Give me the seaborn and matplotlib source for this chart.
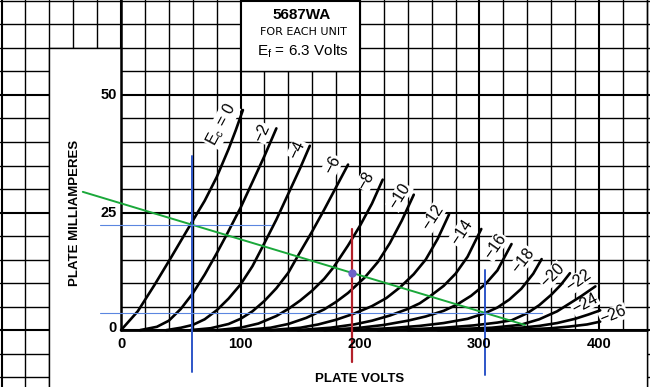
import numpy as np
import pandas as pd
import matplotlib
matplotlib.use("Agg")
import matplotlib.pyplot as plt
import seaborn as sns
from matplotlib.patches import Rectangle

# Plate characteristic curves, (plate volts, plate mA)
ec_0 = [(0, 0), (14, 4), (28, 9.6), (42, 15.5), (58, 22.4), (70, 27.5), (80, 32.5), (90, 38.5), (96, 42.5), (102, 46.8)]
ec_2 = [(16, 0), (30, 0.7), (40, 2), (50, 4.5), (60, 7.8), (70, 11.8), (80, 16.3), (88, 20.1), (100, 26), (110, 31.5), (120, 37), (130, 42.9)]
ec_4 = [(38, 0), (50, 0.5), (60, 1.1), (70, 2.3), (80, 4.2), (90, 6.7), (100, 9.7), (110, 13.6), (118.6, 17.8), (130, 23.5), (140, 29), (150, 34.5), (158, 39.2)]
ec_6 = [(58, 0), (75, 0.4), (90, 1.3), (100, 2.4), (110, 4), (120, 6.2), (130, 8.9), (140, 12.2), (147.6, 15.6), (160, 21), (170, 25.6), (180, 30.4), (190, 35.2)]
ec_8 = [(80, 0), (100, 0.5), (115, 1.4), (130, 3), (140, 4.5), (150, 6.3), (160, 8.4), (170, 10.9), (178, 13.4), (190, 18), (200, 22.2), (210, 26.9), (219, 32)]
ec_10 = [(102, 0), (125, 0.5), (140, 1.3), (155, 2.6), (170, 4.4), (180, 6), (190, 7.9), (204, 11.2), (215, 14.5), (225, 18.5), (235, 23.3), (245, 28.8)]
ec_12 = [(125, 0), (150, 0.5), (165, 1.2), (180, 2.2), (195, 3.5), (210, 5.1), (222, 6.8), (233.5, 9.1), (245, 11.9), (255, 15), (265, 19.4), (274.5, 24.6)]
ec_14 = [(148, 0), (175, 0.5), (195, 1.2), (210, 2), (225, 3.1), (240, 4.5), (250, 5.7), (258.6, 7.2), (270, 9.4), (280, 12), (290, 15.6), (301.5, 21.5)]
ec_16 = [(170, 0), (200, 0.5), (220, 1.1), (240, 2), (255, 2.9), (270, 4.1), (281, 5.4), (293, 7.3), (305, 9.8), (315, 12.7), (326.8, 18.3)]
ec_18 = [(192, 0), (225, 0.4), (250, 0.9), (270, 1.5), (290, 2.4), (304.6, 3.6), (315, 4.8), (325, 6.5), (335, 8.8), (345, 12), (352, 15.1)]
ec_20 = [(215, 0), (245, 0.2), (270, 0.5), (295, 1), (315, 1.6), (327, 2.1), (340, 3.6), (350, 5.3), (360, 7.5), (368, 9.6), (375.7, 12.1)]
ec_22 = [(240, 0), (280, 0.2), (310, 0.5), (334, 1.1), (350, 2.3), (365, 4), (375, 5.6), (385, 7.2), (397, 9.3)]
ec_24 = [(265, 0), (300, 0.1), (330, 0.4), (350, 0.9), (365, 1.5), (380, 2.4), (391, 3.3), (401, 4.2)]
ec_26 = [(300, 0), (340, 0.15), (360, 0.4), (375, 0.75), (390, 1.2), (401, 1.8)]

grid_bias = [0, -2, -4, -6, -8, -10, -12, -14, -16, -18, -20, -22, -24, -26]
curves = [ec_0, ec_2, ec_4, ec_6, ec_8, ec_10, ec_12, ec_14, ec_16, ec_18, ec_20, ec_22, ec_24, ec_26]

# curve labels and where they sit
curve_labels = ['E$_\\mathregular{c}$ = 0', '\u22122', '\u22124', '\u22126', '\u22128', '\u221210', '\u221212',
                '\u221214', '\u221216', '\u221218', '\u221220', '\u221222', '\u221224', '\u221226']
label_v = [84, 118, 147.5, 177, 205, 233, 261, 285, 313, 336.5, 361, 383, 388, 412]
label_ma = [43.6, 42, 38.4, 35.2, 31.8, 28.4, 24, 20.8, 17.8, 14.8, 11.6, 10.5, 5.7, 3.2]
label_rot = [62, 65, 65, 62, 60, 58, 57, 57, 55, 52, 45, 35, 28, 22]

# tick labels
x_ticks = [0, 100, 200, 300, 400]
y_ticks = [0, 25, 50]

# load line, operating point and marker lines drawn on the sheet
load_v = [-32, 338]
load_ma = [29.4, 1.1]
blue_v = [59, 304.6]
blue_top = [37, 12.8]
blue_bottom = [-8.9, -9.6]
red_v = 193
red_span = [-6.7, 21.6]
hline_ma = [22.3, 3.7]
hline_end = [125.5, 352]
point_v, point_ma = 193, 12.2

sns.set_style("white")
plt.rcParams['font.family'] = ['Liberation Sans', 'DejaVu Sans']
plt.rcParams['text.color'] = 'black'

fig = plt.figure(figsize=(6.5, 3.87), dpi=100)
ax = fig.add_axes([0, 0, 1, 1])
ax.set_xlim(-101.3, 442.7)
ax.set_ylim(-12.1, 70.2)

# graph paper
for v in np.arange(-100, 441, 20):
    ax.axvline(v, color='black', lw=1.5 if v % 100 == 0 else 1.0, zorder=1)
for m in np.arange(-10, 71, 5):
    ax.axhline(m, color='black', lw=1.5 if m % 25 == 0 else 1.0, zorder=1)

# blank areas for labels and title
white = dict(facecolor='white', edgecolor='none', zorder=2)
ax.add_patch(Rectangle((-60, -15), 60, 75, **white))
ax.add_patch(Rectangle((-60, -15), 500, 15, **white))
ax.add_patch(Rectangle((100, 55), 100, 20, **white))

# borders of the blank areas
seg = dict(color='black', zorder=3)
ax.plot([-60, -60], [-15, 60], lw=1.0, **seg)
ax.plot([-60, 0], [60, 60], lw=1.0, **seg)
ax.plot([0, 0], [0, 75], lw=1.8, **seg)
ax.plot([0, 440], [0, 0], lw=2.0, **seg)
ax.plot([440, 440], [-15, 75], lw=1.0, **seg)
ax.plot([100, 100], [55, 75], lw=1.5, **seg)
ax.plot([200, 200], [55, 75], lw=1.5, **seg)
ax.plot([100, 200], [55, 55], lw=1.0, **seg)
ax.plot([100, 200], [70, 70], lw=1.5, **seg)

# plate curves
rows = []
for ec, pts in zip(grid_bias, curves):
    for v, ma in pts:
        rows.append((ec, v, ma))
df = pd.DataFrame(rows, columns=['ec', 'volts', 'ma'])
sns.lineplot(data=df, x='volts', y='ma', units='ec', estimator=None, sort=False,
             color='black', lw=1.9, legend=False, ax=ax, zorder=4)
ax.axis('off')

for txt, v, ma, rot in zip(curve_labels, label_v, label_ma, label_rot):
    ax.text(v, ma, txt, rotation=rot, ha='center', va='center', fontsize=11.5,
            rotation_mode='anchor', zorder=3.5,
            bbox=dict(facecolor='white', edgecolor='none', pad=0.5))

# overlays
ax.plot(load_v, load_ma, color='#1aa83a', lw=1.4, zorder=5)
for v, top, bot in zip(blue_v, blue_top, blue_bottom):
    ax.plot([v, v], [bot, top], color='#2d55c8', lw=1.4, zorder=5)
ax.plot([red_v, red_v], red_span, color='#b3202a', lw=1.6, zorder=5)
for m, end in zip(hline_ma, hline_end):
    ax.plot([-17.6, end], [m, m], color='#5b86e0', lw=0.8, zorder=5)
ax.plot(point_v, point_ma, 'o', color='#6d62c9', ms=5, zorder=6)

# tick labels and axis titles
for v in x_ticks:
    ax.text(v, -3.0, str(v), ha='center', va='center', fontsize=10.5, fontweight='bold', zorder=6)
for m in y_ticks:
    ax.text(-3.5, m + (0.4 if m == 0 else 0), str(m), ha='right', va='center', fontsize=10.5,
            fontweight='bold', zorder=6)
ax.text(-38.5, 25, 'PLATE MILLIAMPERES', rotation=90, ha='center', va='center',
        fontsize=9.5, fontweight='bold', zorder=6)
ax.text(200, -10.4, 'PLATE VOLTS', ha='center', va='center', fontsize=9.5,
        fontweight='bold', zorder=6)

# title box
ax.text(151, 67.1, '5687WA', ha='center', va='center', fontsize=11, fontweight='bold', zorder=6)
ax.text(153, 63.3, 'FOR EACH UNIT', ha='center', va='center', fontsize=8,
        family=['DejaVu Sans'], zorder=6)
ax.text(152, 59.4, 'E$_\\mathregular{f}$ = 6.3 Volts', ha='center', va='center', fontsize=11,
        zorder=6)

fig.savefig('out.png', dpi=100)
